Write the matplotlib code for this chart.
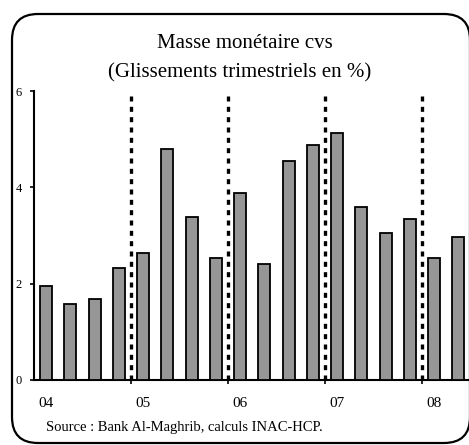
import matplotlib
matplotlib.use("Agg")
import matplotlib.pyplot as plt
from matplotlib.patches import FancyBboxPatch
from matplotlib.transforms import IdentityTransform
import numpy as np

# quarterly growth of money supply, 2004 Q1 .. 2008 Q2
values = [1.95, 1.57, 1.69, 2.33, 2.63, 4.79, 3.39, 2.54, 3.89, 2.41,
          4.54, 4.87, 5.13, 3.60, 3.05, 3.35, 2.54, 2.97]
year_labels = ["04", "05", "06", "07", "08"]
year_pos = [0, 4, 8, 12, 16]
year_breaks = [3.5, 7.5, 11.5, 15.5]
y_ticks = [0, 2, 4, 6]

plt.rcParams["font.family"] = ["Liberation Serif", "DejaVu Serif"]

fig = plt.figure(figsize=(4.69, 4.45), dpi=100)
ax = fig.add_axes([34 / 469, 65 / 445, 436.5 / 469, 289 / 445])

x = np.arange(len(values))
ax.bar(x, values, width=0.5, color="#969696", edgecolor="black", linewidth=1.3, zorder=3)

for b in year_breaks:
    ax.axvline(b, color="black", linewidth=2.4, linestyle=(0, (1.5, 1.6)), zorder=2)

ax.set_xlim(-0.5, 17.5)
ax.set_ylim(0, 6)
ax.set_yticks(y_ticks)
ax.set_yticklabels([str(v) for v in y_ticks], fontsize=9)
ax.set_xticks(year_breaks)
ax.set_xticklabels([])
ax.set_xticks(year_pos, minor=True)
ax.set_xticklabels(year_labels, minor=True, fontsize=11)
ax.tick_params(axis="x", which="minor", length=0, pad=12)
ax.tick_params(axis="x", which="major", length=3, width=1.2, direction="out")
ax.tick_params(axis="y", length=3, width=1.2, direction="out", pad=6)

for s in ["top", "right"]:
    ax.spines[s].set_visible(False)
for s in ["left", "bottom"]:
    ax.spines[s].set_linewidth(1.5)

fig.text(245 / 469, 1 - 43 / 445, "Masse monétaire cvs", fontsize=15,
         ha="center", va="center")
fig.text(240 / 469, 1 - 73 / 445, "(Glissements trimestriels en %)", fontsize=15,
         ha="center", va="center")
fig.text(46 / 469, 1 - 428 / 445, "Source : Bank Al-Maghrib, calculs INAC-HCP.",
         fontsize=10.5, ha="left", va="center")

frame = FancyBboxPatch((12, 2), 458, 429, boxstyle="round,pad=0,rounding_size=26",
                       transform=IdentityTransform(), facecolor="none",
                       edgecolor="black", linewidth=1.6)
fig.patches.append(frame)

fig.savefig("out.png", dpi=100)
